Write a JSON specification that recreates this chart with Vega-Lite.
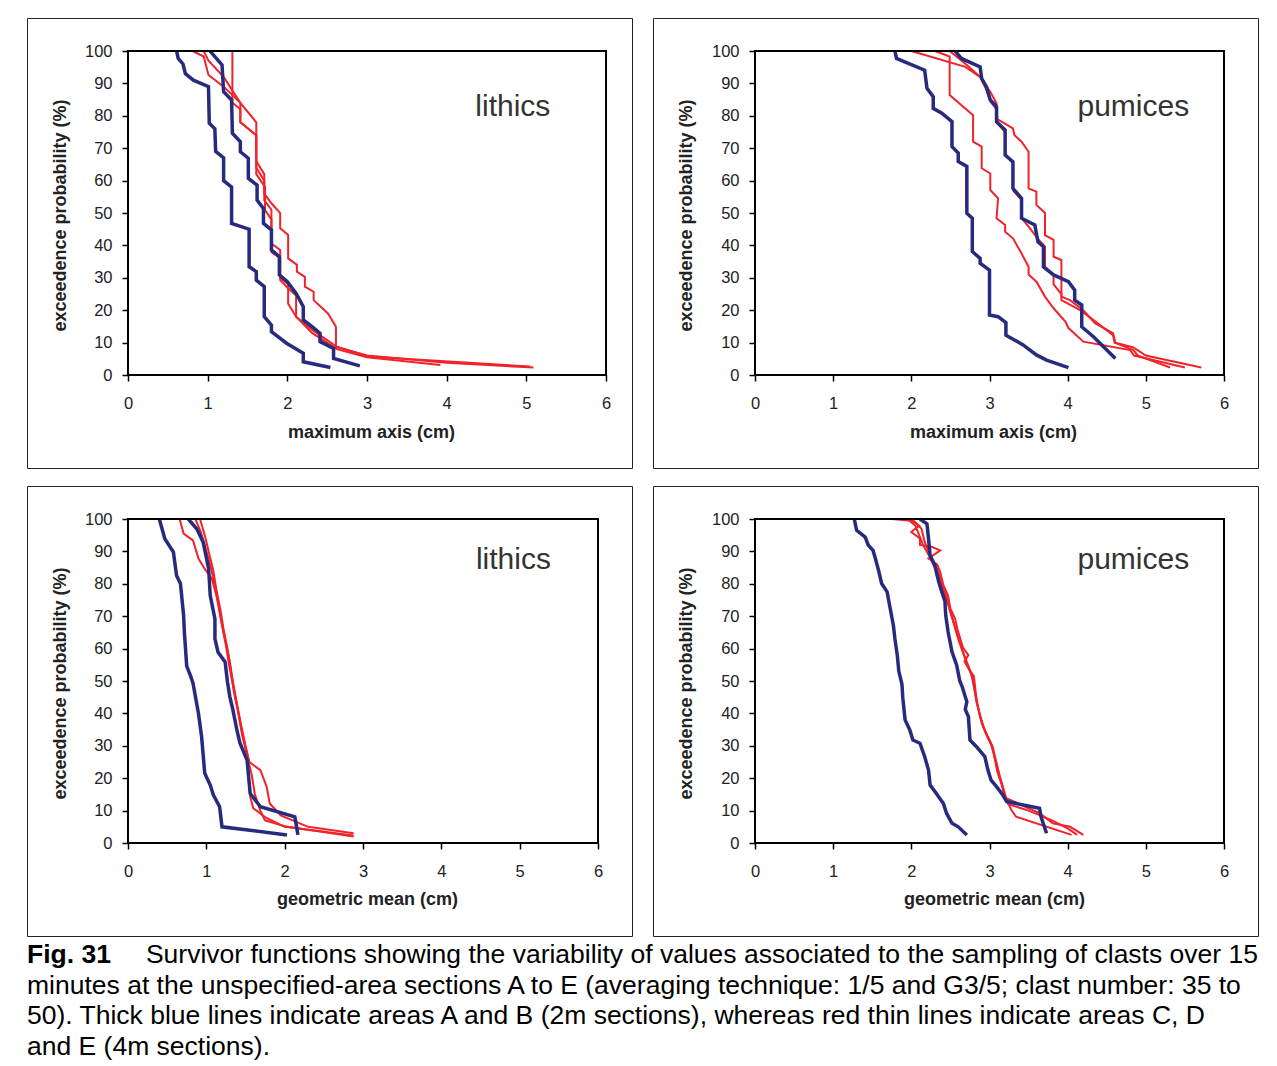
{
  "$schema": "https://vega.github.io/schema/vega-lite/v6.json",
  "padding": {"left": 26, "top": 17, "right": 0, "bottom": 0},
  "background": "white",
  "config": {
    "font": "Liberation Sans",
    "axis": {"grid": false, "domain": false, "format": "d", "tickColor": "#000", "tickWidth": 1.5, "tickSize": 6, "labelFont": "Liberation Sans", "labelFontSize": 16.5, "labelColor": "#222", "labelFlush": false, "titleFont": "Liberation Sans", "titleFontSize": 18, "titleFontWeight": "bold", "titleColor": "#222", "titleBaseline": "middle"},
    "line": {"strokeJoin": "miter", "strokeCap": "butt"}
  },
  "datasets": {
    "curves": [
      {"p":"TL","s":"R1","x":1.31,"y":100},{"p":"TL","s":"R1","x":1.31,"y":84},{"p":"TL","s":"R1","x":1.41,"y":82},{"p":"TL","s":"R1","x":1.41,"y":78},{"p":"TL","s":"R1","x":1.61,"y":74},{"p":"TL","s":"R1","x":1.61,"y":66},{"p":"TL","s":"R1","x":1.71,"y":62},{"p":"TL","s":"R1","x":1.71,"y":56},{"p":"TL","s":"R1","x":1.8,"y":53},{"p":"TL","s":"R1","x":1.91,"y":50},{"p":"TL","s":"R1","x":1.91,"y":45.3},{"p":"TL","s":"R1","x":2.01,"y":43.2},{"p":"TL","s":"R1","x":2.01,"y":36},{"p":"TL","s":"R1","x":2.12,"y":34},{"p":"TL","s":"R1","x":2.12,"y":31.9},{"p":"TL","s":"R1","x":2.22,"y":30.3},{"p":"TL","s":"R1","x":2.22,"y":27.3},{"p":"TL","s":"R1","x":2.33,"y":25.7},{"p":"TL","s":"R1","x":2.33,"y":23.1},{"p":"TL","s":"R1","x":2.51,"y":19},{"p":"TL","s":"R1","x":2.61,"y":14.9},{"p":"TL","s":"R1","x":2.61,"y":8.7},{"p":"TL","s":"R1","x":3.0,"y":6},{"p":"TL","s":"R1","x":4.0,"y":3.8},{"p":"TL","s":"R1","x":5.09,"y":2.3},
      {"p":"TL","s":"R2","x":0.95,"y":100},{"p":"TL","s":"R2","x":1.01,"y":97},{"p":"TL","s":"R2","x":1.2,"y":92},{"p":"TL","s":"R2","x":1.41,"y":84},{"p":"TL","s":"R2","x":1.61,"y":78},{"p":"TL","s":"R2","x":1.61,"y":64},{"p":"TL","s":"R2","x":1.71,"y":60},{"p":"TL","s":"R2","x":1.71,"y":54},{"p":"TL","s":"R2","x":1.8,"y":51},{"p":"TL","s":"R2","x":1.8,"y":40.6},{"p":"TL","s":"R2","x":1.91,"y":38.6},{"p":"TL","s":"R2","x":1.91,"y":29.3},{"p":"TL","s":"R2","x":2.01,"y":26.8},{"p":"TL","s":"R2","x":2.11,"y":24.5},{"p":"TL","s":"R2","x":2.11,"y":18},{"p":"TL","s":"R2","x":2.31,"y":14},{"p":"TL","s":"R2","x":2.62,"y":8.7},{"p":"TL","s":"R2","x":3.0,"y":5.7},{"p":"TL","s":"R2","x":5.05,"y":2.6},
      {"p":"TL","s":"R3","x":0.81,"y":100},{"p":"TL","s":"R3","x":0.95,"y":98.3},{"p":"TL","s":"R3","x":1.01,"y":92.6},{"p":"TL","s":"R3","x":1.2,"y":89},{"p":"TL","s":"R3","x":1.41,"y":84},{"p":"TL","s":"R3","x":1.41,"y":78},{"p":"TL","s":"R3","x":1.61,"y":74},{"p":"TL","s":"R3","x":1.61,"y":62},{"p":"TL","s":"R3","x":1.72,"y":58},{"p":"TL","s":"R3","x":1.72,"y":50.9},{"p":"TL","s":"R3","x":1.8,"y":48},{"p":"TL","s":"R3","x":1.8,"y":38},{"p":"TL","s":"R3","x":1.91,"y":36},{"p":"TL","s":"R3","x":1.91,"y":30},{"p":"TL","s":"R3","x":2.01,"y":28},{"p":"TL","s":"R3","x":2.01,"y":22},{"p":"TL","s":"R3","x":2.11,"y":18},{"p":"TL","s":"R3","x":2.31,"y":13},{"p":"TL","s":"R3","x":2.62,"y":8},{"p":"TL","s":"R3","x":3.0,"y":5.5},{"p":"TL","s":"R3","x":3.92,"y":3.1},
      {"p":"TL","s":"B1","x":0.61,"y":100},{"p":"TL","s":"B1","x":0.63,"y":97.7},{"p":"TL","s":"B1","x":0.69,"y":96},{"p":"TL","s":"B1","x":0.72,"y":93},{"p":"TL","s":"B1","x":0.82,"y":91},{"p":"TL","s":"B1","x":1.01,"y":89},{"p":"TL","s":"B1","x":1.02,"y":77.7},{"p":"TL","s":"B1","x":1.09,"y":76},{"p":"TL","s":"B1","x":1.1,"y":69},{"p":"TL","s":"B1","x":1.2,"y":67},{"p":"TL","s":"B1","x":1.2,"y":60},{"p":"TL","s":"B1","x":1.3,"y":58},{"p":"TL","s":"B1","x":1.3,"y":46.8},{"p":"TL","s":"B1","x":1.52,"y":45},{"p":"TL","s":"B1","x":1.52,"y":33.4},{"p":"TL","s":"B1","x":1.61,"y":31.9},{"p":"TL","s":"B1","x":1.61,"y":29.3},{"p":"TL","s":"B1","x":1.71,"y":27.3},{"p":"TL","s":"B1","x":1.71,"y":18},{"p":"TL","s":"B1","x":1.8,"y":15.4},{"p":"TL","s":"B1","x":1.8,"y":13.4},{"p":"TL","s":"B1","x":1.99,"y":9.8},{"p":"TL","s":"B1","x":2.2,"y":6.7},{"p":"TL","s":"B1","x":2.2,"y":4.1},{"p":"TL","s":"B1","x":2.54,"y":2.3},
      {"p":"TL","s":"B2","x":1.03,"y":100},{"p":"TL","s":"B2","x":1.18,"y":95.7},{"p":"TL","s":"B2","x":1.2,"y":87.4},{"p":"TL","s":"B2","x":1.3,"y":84.9},{"p":"TL","s":"B2","x":1.31,"y":74.6},{"p":"TL","s":"B2","x":1.41,"y":72},{"p":"TL","s":"B2","x":1.41,"y":68.9},{"p":"TL","s":"B2","x":1.51,"y":66.9},{"p":"TL","s":"B2","x":1.51,"y":60.7},{"p":"TL","s":"B2","x":1.62,"y":58.6},{"p":"TL","s":"B2","x":1.62,"y":54},{"p":"TL","s":"B2","x":1.7,"y":51.4},{"p":"TL","s":"B2","x":1.7,"y":46.8},{"p":"TL","s":"B2","x":1.8,"y":44.8},{"p":"TL","s":"B2","x":1.8,"y":38.6},{"p":"TL","s":"B2","x":1.9,"y":36.5},{"p":"TL","s":"B2","x":1.9,"y":30.9},{"p":"TL","s":"B2","x":2.0,"y":28.8},{"p":"TL","s":"B2","x":2.11,"y":25.2},{"p":"TL","s":"B2","x":2.2,"y":21.1},{"p":"TL","s":"B2","x":2.2,"y":17},{"p":"TL","s":"B2","x":2.31,"y":14.9},{"p":"TL","s":"B2","x":2.41,"y":12.9},{"p":"TL","s":"B2","x":2.41,"y":10.3},{"p":"TL","s":"B2","x":2.58,"y":8.2},{"p":"TL","s":"B2","x":2.58,"y":5.1},{"p":"TL","s":"B2","x":2.91,"y":2.8},

      {"p":"TR","s":"R1","x":2.3,"y":100},{"p":"TR","s":"R1","x":2.49,"y":98.3},{"p":"TR","s":"R1","x":2.49,"y":86.4},{"p":"TR","s":"R1","x":2.79,"y":80.2},{"p":"TR","s":"R1","x":2.79,"y":72},{"p":"TR","s":"R1","x":2.9,"y":70.5},{"p":"TR","s":"R1","x":2.9,"y":63.8},{"p":"TR","s":"R1","x":3.01,"y":62.2},{"p":"TR","s":"R1","x":3.01,"y":57.1},{"p":"TR","s":"R1","x":3.11,"y":54.5},{"p":"TR","s":"R1","x":3.09,"y":48.4},{"p":"TR","s":"R1","x":3.2,"y":46.3},{"p":"TR","s":"R1","x":3.2,"y":44.2},{"p":"TR","s":"R1","x":3.3,"y":42.2},{"p":"TR","s":"R1","x":3.41,"y":37.5},{"p":"TR","s":"R1","x":3.5,"y":33.4},{"p":"TR","s":"R1","x":3.5,"y":31},{"p":"TR","s":"R1","x":3.6,"y":28.8},{"p":"TR","s":"R1","x":3.71,"y":24.2},{"p":"TR","s":"R1","x":3.82,"y":20.6},{"p":"TR","s":"R1","x":3.97,"y":16.5},{"p":"TR","s":"R1","x":4.01,"y":14.5},{"p":"TR","s":"R1","x":4.2,"y":10.3},{"p":"TR","s":"R1","x":4.8,"y":7.7},{"p":"TR","s":"R1","x":4.85,"y":6},{"p":"TR","s":"R1","x":5.5,"y":2.3},
      {"p":"TR","s":"R2","x":2.0,"y":100},{"p":"TR","s":"R2","x":2.69,"y":95.1},{"p":"TR","s":"R2","x":2.88,"y":92},{"p":"TR","s":"R2","x":2.96,"y":88},{"p":"TR","s":"R2","x":3.01,"y":84.5},{"p":"TR","s":"R2","x":3.09,"y":82},{"p":"TR","s":"R2","x":3.09,"y":78},{"p":"TR","s":"R2","x":3.2,"y":75},{"p":"TR","s":"R2","x":3.2,"y":68},{"p":"TR","s":"R2","x":3.3,"y":65.5},{"p":"TR","s":"R2","x":3.3,"y":57},{"p":"TR","s":"R2","x":3.41,"y":54},{"p":"TR","s":"R2","x":3.41,"y":48.4},{"p":"TR","s":"R2","x":3.5,"y":45.8},{"p":"TR","s":"R2","x":3.62,"y":42},{"p":"TR","s":"R2","x":3.71,"y":39.6},{"p":"TR","s":"R2","x":3.71,"y":33.4},{"p":"TR","s":"R2","x":3.82,"y":31},{"p":"TR","s":"R2","x":3.82,"y":28},{"p":"TR","s":"R2","x":3.92,"y":25},{"p":"TR","s":"R2","x":3.92,"y":23.1},{"p":"TR","s":"R2","x":4.16,"y":20},{"p":"TR","s":"R2","x":4.33,"y":17},{"p":"TR","s":"R2","x":4.58,"y":12.3},{"p":"TR","s":"R2","x":4.6,"y":10},{"p":"TR","s":"R2","x":4.84,"y":7.7},{"p":"TR","s":"R2","x":4.9,"y":6},{"p":"TR","s":"R2","x":5.31,"y":2.3},
      {"p":"TR","s":"R3","x":2.49,"y":100},{"p":"TR","s":"R3","x":2.71,"y":95.7},{"p":"TR","s":"R3","x":2.88,"y":92},{"p":"TR","s":"R3","x":3.01,"y":87.4},{"p":"TR","s":"R3","x":3.09,"y":83.9},{"p":"TR","s":"R3","x":3.1,"y":79},{"p":"TR","s":"R3","x":3.3,"y":76.1},{"p":"TR","s":"R3","x":3.32,"y":74},{"p":"TR","s":"R3","x":3.41,"y":72},{"p":"TR","s":"R3","x":3.5,"y":68.9},{"p":"TR","s":"R3","x":3.5,"y":57.6},{"p":"TR","s":"R3","x":3.6,"y":56.6},{"p":"TR","s":"R3","x":3.6,"y":52.5},{"p":"TR","s":"R3","x":3.71,"y":50},{"p":"TR","s":"R3","x":3.71,"y":43.2},{"p":"TR","s":"R3","x":3.82,"y":41.7},{"p":"TR","s":"R3","x":3.82,"y":36.5},{"p":"TR","s":"R3","x":3.92,"y":35.5},{"p":"TR","s":"R3","x":3.92,"y":24.2},{"p":"TR","s":"R3","x":4.03,"y":23.1},{"p":"TR","s":"R3","x":4.2,"y":20},{"p":"TR","s":"R3","x":4.35,"y":16},{"p":"TR","s":"R3","x":4.58,"y":12.9},{"p":"TR","s":"R3","x":4.61,"y":10},{"p":"TR","s":"R3","x":4.84,"y":8.5},{"p":"TR","s":"R3","x":5.0,"y":6},{"p":"TR","s":"R3","x":5.71,"y":2.3},
      {"p":"TR","s":"B1","x":1.79,"y":100},{"p":"TR","s":"B1","x":1.81,"y":97.7},{"p":"TR","s":"B1","x":2.17,"y":94.1},{"p":"TR","s":"B1","x":2.2,"y":88.5},{"p":"TR","s":"B1","x":2.28,"y":85.9},{"p":"TR","s":"B1","x":2.28,"y":82.3},{"p":"TR","s":"B1","x":2.39,"y":80.8},{"p":"TR","s":"B1","x":2.52,"y":78.2},{"p":"TR","s":"B1","x":2.52,"y":70.5},{"p":"TR","s":"B1","x":2.6,"y":68.5},{"p":"TR","s":"B1","x":2.6,"y":65.9},{"p":"TR","s":"B1","x":2.71,"y":64.4},{"p":"TR","s":"B1","x":2.71,"y":49.9},{"p":"TR","s":"B1","x":2.78,"y":48.4},{"p":"TR","s":"B1","x":2.78,"y":38.1},{"p":"TR","s":"B1","x":2.88,"y":36},{"p":"TR","s":"B1","x":2.88,"y":34.5},{"p":"TR","s":"B1","x":3.0,"y":32.4},{"p":"TR","s":"B1","x":3.0,"y":18.5},{"p":"TR","s":"B1","x":3.11,"y":18},{"p":"TR","s":"B1","x":3.21,"y":16.2},{"p":"TR","s":"B1","x":3.21,"y":12.3},{"p":"TR","s":"B1","x":3.43,"y":9.3},{"p":"TR","s":"B1","x":3.6,"y":6.2},{"p":"TR","s":"B1","x":3.73,"y":4.6},{"p":"TR","s":"B1","x":4.01,"y":2.3},
      {"p":"TR","s":"B2","x":2.56,"y":100},{"p":"TR","s":"B2","x":2.64,"y":97.7},{"p":"TR","s":"B2","x":2.88,"y":95.1},{"p":"TR","s":"B2","x":2.9,"y":91.5},{"p":"TR","s":"B2","x":2.96,"y":89},{"p":"TR","s":"B2","x":3.01,"y":84.9},{"p":"TR","s":"B2","x":3.09,"y":82.8},{"p":"TR","s":"B2","x":3.09,"y":78.2},{"p":"TR","s":"B2","x":3.2,"y":75.6},{"p":"TR","s":"B2","x":3.2,"y":67.9},{"p":"TR","s":"B2","x":3.3,"y":65.8},{"p":"TR","s":"B2","x":3.3,"y":57.6},{"p":"TR","s":"B2","x":3.41,"y":54.5},{"p":"TR","s":"B2","x":3.41,"y":48.4},{"p":"TR","s":"B2","x":3.58,"y":46.3},{"p":"TR","s":"B2","x":3.62,"y":41.1},{"p":"TR","s":"B2","x":3.69,"y":39.6},{"p":"TR","s":"B2","x":3.69,"y":33.4},{"p":"TR","s":"B2","x":3.82,"y":30.9},{"p":"TR","s":"B2","x":4.01,"y":28.8},{"p":"TR","s":"B2","x":4.09,"y":26.2},{"p":"TR","s":"B2","x":4.09,"y":23.1},{"p":"TR","s":"B2","x":4.18,"y":21.6},{"p":"TR","s":"B2","x":4.18,"y":14.9},{"p":"TR","s":"B2","x":4.33,"y":11.8},{"p":"TR","s":"B2","x":4.61,"y":5.1},

      {"p":"BL","s":"R1","x":0.66,"y":100},{"p":"BL","s":"R1","x":0.71,"y":95.5},{"p":"BL","s":"R1","x":0.83,"y":93.4},{"p":"BL","s":"R1","x":0.9,"y":87.8},{"p":"BL","s":"R1","x":0.98,"y":84.6},{"p":"BL","s":"R1","x":1.07,"y":81.6},{"p":"BL","s":"R1","x":1.13,"y":76.4},{"p":"BL","s":"R1","x":1.17,"y":71.3},{"p":"BL","s":"R1","x":1.24,"y":63},{"p":"BL","s":"R1","x":1.3,"y":55.9},{"p":"BL","s":"R1","x":1.34,"y":49.7},{"p":"BL","s":"R1","x":1.39,"y":43.1},{"p":"BL","s":"R1","x":1.45,"y":34.9},{"p":"BL","s":"R1","x":1.52,"y":27.7},{"p":"BL","s":"R1","x":1.56,"y":14.3},{"p":"BL","s":"R1","x":1.6,"y":10.7},{"p":"BL","s":"R1","x":1.75,"y":8},{"p":"BL","s":"R1","x":2.0,"y":5},{"p":"BL","s":"R1","x":2.88,"y":2.3},
      {"p":"BL","s":"R2","x":0.86,"y":100},{"p":"BL","s":"R2","x":0.93,"y":96},{"p":"BL","s":"R2","x":0.99,"y":91},{"p":"BL","s":"R2","x":1.06,"y":85},{"p":"BL","s":"R2","x":1.11,"y":79},{"p":"BL","s":"R2","x":1.16,"y":73},{"p":"BL","s":"R2","x":1.2,"y":67},{"p":"BL","s":"R2","x":1.25,"y":61},{"p":"BL","s":"R2","x":1.29,"y":55},{"p":"BL","s":"R2","x":1.33,"y":50},{"p":"BL","s":"R2","x":1.38,"y":44},{"p":"BL","s":"R2","x":1.44,"y":37},{"p":"BL","s":"R2","x":1.5,"y":30},{"p":"BL","s":"R2","x":1.55,"y":25},{"p":"BL","s":"R2","x":1.69,"y":22.5},{"p":"BL","s":"R2","x":1.77,"y":17.4},{"p":"BL","s":"R2","x":1.81,"y":12.2},{"p":"BL","s":"R2","x":1.95,"y":8.5},{"p":"BL","s":"R2","x":2.3,"y":5},{"p":"BL","s":"R2","x":2.88,"y":3},
      {"p":"BL","s":"R3","x":0.92,"y":100},{"p":"BL","s":"R3","x":0.98,"y":95},{"p":"BL","s":"R3","x":1.03,"y":90},{"p":"BL","s":"R3","x":1.09,"y":84},{"p":"BL","s":"R3","x":1.13,"y":78},{"p":"BL","s":"R3","x":1.18,"y":72},{"p":"BL","s":"R3","x":1.22,"y":66},{"p":"BL","s":"R3","x":1.27,"y":60},{"p":"BL","s":"R3","x":1.31,"y":54},{"p":"BL","s":"R3","x":1.35,"y":47},{"p":"BL","s":"R3","x":1.4,"y":41},{"p":"BL","s":"R3","x":1.46,"y":33},{"p":"BL","s":"R3","x":1.52,"y":27},{"p":"BL","s":"R3","x":1.58,"y":21},{"p":"BL","s":"R3","x":1.62,"y":15},{"p":"BL","s":"R3","x":1.69,"y":10},{"p":"BL","s":"R3","x":1.75,"y":7},{"p":"BL","s":"R3","x":2.0,"y":5.2},{"p":"BL","s":"R3","x":2.88,"y":2},
      {"p":"BL","s":"B1","x":0.4,"y":100},{"p":"BL","s":"B1","x":0.47,"y":93.9},{"p":"BL","s":"B1","x":0.58,"y":89.8},{"p":"BL","s":"B1","x":0.62,"y":82.6},{"p":"BL","s":"B1","x":0.67,"y":80},{"p":"BL","s":"B1","x":0.71,"y":70.3},{"p":"BL","s":"B1","x":0.72,"y":65},{"p":"BL","s":"B1","x":0.75,"y":54.6},{"p":"BL","s":"B1","x":0.8,"y":51.5},{"p":"BL","s":"B1","x":0.83,"y":49.3},{"p":"BL","s":"B1","x":0.9,"y":40},{"p":"BL","s":"B1","x":0.94,"y":32.8},{"p":"BL","s":"B1","x":0.98,"y":21.5},{"p":"BL","s":"B1","x":1.05,"y":17.9},{"p":"BL","s":"B1","x":1.09,"y":14.8},{"p":"BL","s":"B1","x":1.17,"y":11.2},{"p":"BL","s":"B1","x":1.2,"y":5},{"p":"BL","s":"B1","x":2.03,"y":2.5},
      {"p":"BL","s":"B2","x":0.77,"y":100},{"p":"BL","s":"B2","x":0.88,"y":96.9},{"p":"BL","s":"B2","x":0.96,"y":92.8},{"p":"BL","s":"B2","x":1.03,"y":84.6},{"p":"BL","s":"B2","x":1.05,"y":76.4},{"p":"BL","s":"B2","x":1.11,"y":69.2},{"p":"BL","s":"B2","x":1.11,"y":63},{"p":"BL","s":"B2","x":1.15,"y":58.9},{"p":"BL","s":"B2","x":1.24,"y":55.9},{"p":"BL","s":"B2","x":1.27,"y":49.7},{"p":"BL","s":"B2","x":1.3,"y":45.2},{"p":"BL","s":"B2","x":1.34,"y":41},{"p":"BL","s":"B2","x":1.39,"y":34.9},{"p":"BL","s":"B2","x":1.43,"y":30.8},{"p":"BL","s":"B2","x":1.52,"y":25.6},{"p":"BL","s":"B2","x":1.56,"y":15.3},{"p":"BL","s":"B2","x":1.69,"y":11.2},{"p":"BL","s":"B2","x":2.13,"y":8.1},{"p":"BL","s":"B2","x":2.17,"y":2.5},

      {"p":"BR","s":"R1","x":1.75,"y":100},{"p":"BR","s":"R1","x":2.0,"y":99.5},{"p":"BR","s":"R1","x":2.1,"y":98},{"p":"BR","s":"R1","x":2.0,"y":96},{"p":"BR","s":"R1","x":2.11,"y":94},{"p":"BR","s":"R1","x":2.11,"y":92},{"p":"BR","s":"R1","x":2.25,"y":91.5},{"p":"BR","s":"R1","x":2.37,"y":90.3},{"p":"BR","s":"R1","x":2.22,"y":87.8},{"p":"BR","s":"R1","x":2.33,"y":86},{"p":"BR","s":"R1","x":2.37,"y":83.6},{"p":"BR","s":"R1","x":2.41,"y":79.6},{"p":"BR","s":"R1","x":2.47,"y":76.4},{"p":"BR","s":"R1","x":2.5,"y":72.3},{"p":"BR","s":"R1","x":2.56,"y":69.2},{"p":"BR","s":"R1","x":2.59,"y":66},{"p":"BR","s":"R1","x":2.66,"y":60.3},{"p":"BR","s":"R1","x":2.73,"y":58},{"p":"BR","s":"R1","x":2.68,"y":56},{"p":"BR","s":"R1","x":2.74,"y":53.5},{"p":"BR","s":"R1","x":2.8,"y":51.5},{"p":"BR","s":"R1","x":2.84,"y":43.1},{"p":"BR","s":"R1","x":2.92,"y":35.9},{"p":"BR","s":"R1","x":2.98,"y":32.8},{"p":"BR","s":"R1","x":3.04,"y":29.8},{"p":"BR","s":"R1","x":3.09,"y":24.7},{"p":"BR","s":"R1","x":3.13,"y":20.6},{"p":"BR","s":"R1","x":3.17,"y":17.4},{"p":"BR","s":"R1","x":3.22,"y":13.3},{"p":"BR","s":"R1","x":3.28,"y":10.2},{"p":"BR","s":"R1","x":3.34,"y":8.1},{"p":"BR","s":"R1","x":4.05,"y":2.5},
      {"p":"BR","s":"R2","x":2.0,"y":100},{"p":"BR","s":"R2","x":2.05,"y":99},{"p":"BR","s":"R2","x":2.13,"y":97},{"p":"BR","s":"R2","x":2.17,"y":93},{"p":"BR","s":"R2","x":2.22,"y":90},{"p":"BR","s":"R2","x":2.28,"y":87},{"p":"BR","s":"R2","x":2.34,"y":84},{"p":"BR","s":"R2","x":2.39,"y":80},{"p":"BR","s":"R2","x":2.45,"y":76},{"p":"BR","s":"R2","x":2.49,"y":72},{"p":"BR","s":"R2","x":2.54,"y":68},{"p":"BR","s":"R2","x":2.6,"y":63},{"p":"BR","s":"R2","x":2.66,"y":59},{"p":"BR","s":"R2","x":2.74,"y":54},{"p":"BR","s":"R2","x":2.79,"y":50},{"p":"BR","s":"R2","x":2.83,"y":44},{"p":"BR","s":"R2","x":2.9,"y":37},{"p":"BR","s":"R2","x":2.97,"y":33},{"p":"BR","s":"R2","x":3.03,"y":30},{"p":"BR","s":"R2","x":3.07,"y":26},{"p":"BR","s":"R2","x":3.12,"y":21.5},{"p":"BR","s":"R2","x":3.16,"y":18},{"p":"BR","s":"R2","x":3.2,"y":14},{"p":"BR","s":"R2","x":3.64,"y":9.2},{"p":"BR","s":"R2","x":3.81,"y":6.1},{"p":"BR","s":"R2","x":4.03,"y":5},{"p":"BR","s":"R2","x":4.2,"y":2.5},
      {"p":"BR","s":"R3","x":1.95,"y":100},{"p":"BR","s":"R3","x":2.05,"y":98},{"p":"BR","s":"R3","x":2.1,"y":95},{"p":"BR","s":"R3","x":2.15,"y":92},{"p":"BR","s":"R3","x":2.22,"y":89},{"p":"BR","s":"R3","x":2.3,"y":85},{"p":"BR","s":"R3","x":2.36,"y":81},{"p":"BR","s":"R3","x":2.42,"y":77},{"p":"BR","s":"R3","x":2.48,"y":73},{"p":"BR","s":"R3","x":2.53,"y":69},{"p":"BR","s":"R3","x":2.58,"y":65},{"p":"BR","s":"R3","x":2.63,"y":61},{"p":"BR","s":"R3","x":2.7,"y":56},{"p":"BR","s":"R3","x":2.77,"y":52},{"p":"BR","s":"R3","x":2.82,"y":46},{"p":"BR","s":"R3","x":2.88,"y":39},{"p":"BR","s":"R3","x":2.95,"y":34},{"p":"BR","s":"R3","x":3.02,"y":30.5},{"p":"BR","s":"R3","x":3.06,"y":27},{"p":"BR","s":"R3","x":3.1,"y":22},{"p":"BR","s":"R3","x":3.15,"y":18.5},{"p":"BR","s":"R3","x":3.19,"y":15},{"p":"BR","s":"R3","x":3.24,"y":12},{"p":"BR","s":"R3","x":3.5,"y":10},{"p":"BR","s":"R3","x":3.8,"y":7},{"p":"BR","s":"R3","x":4.0,"y":4.5},{"p":"BR","s":"R3","x":4.12,"y":2.5},
      {"p":"BR","s":"B1","x":1.27,"y":100},{"p":"BR","s":"B1","x":1.3,"y":96.5},{"p":"BR","s":"B1","x":1.41,"y":94.4},{"p":"BR","s":"B1","x":1.45,"y":91.9},{"p":"BR","s":"B1","x":1.51,"y":90.3},{"p":"BR","s":"B1","x":1.54,"y":87.8},{"p":"BR","s":"B1","x":1.58,"y":84.2},{"p":"BR","s":"B1","x":1.62,"y":80.1},{"p":"BR","s":"B1","x":1.69,"y":77.5},{"p":"BR","s":"B1","x":1.73,"y":72.3},{"p":"BR","s":"B1","x":1.77,"y":67.2},{"p":"BR","s":"B1","x":1.79,"y":63},{"p":"BR","s":"B1","x":1.82,"y":58},{"p":"BR","s":"B1","x":1.84,"y":53},{"p":"BR","s":"B1","x":1.88,"y":49},{"p":"BR","s":"B1","x":1.89,"y":45},{"p":"BR","s":"B1","x":1.92,"y":38},{"p":"BR","s":"B1","x":1.98,"y":34.9},{"p":"BR","s":"B1","x":2.02,"y":31.8},{"p":"BR","s":"B1","x":2.11,"y":30.8},{"p":"BR","s":"B1","x":2.17,"y":26.7},{"p":"BR","s":"B1","x":2.22,"y":22.5},{"p":"BR","s":"B1","x":2.24,"y":17.9},{"p":"BR","s":"B1","x":2.32,"y":15.3},{"p":"BR","s":"B1","x":2.41,"y":12.2},{"p":"BR","s":"B1","x":2.45,"y":9.2},{"p":"BR","s":"B1","x":2.52,"y":6.1},{"p":"BR","s":"B1","x":2.6,"y":5},{"p":"BR","s":"B1","x":2.71,"y":2.5},
      {"p":"BR","s":"B2","x":2.11,"y":100},{"p":"BR","s":"B2","x":2.2,"y":98.5},{"p":"BR","s":"B2","x":2.22,"y":93.9},{"p":"BR","s":"B2","x":2.24,"y":88.8},{"p":"BR","s":"B2","x":2.3,"y":85.7},{"p":"BR","s":"B2","x":2.35,"y":80.6},{"p":"BR","s":"B2","x":2.39,"y":77.5},{"p":"BR","s":"B2","x":2.43,"y":74.6},{"p":"BR","s":"B2","x":2.44,"y":70.3},{"p":"BR","s":"B2","x":2.47,"y":65.2},{"p":"BR","s":"B2","x":2.52,"y":59},{"p":"BR","s":"B2","x":2.58,"y":54.9},{"p":"BR","s":"B2","x":2.62,"y":50},{"p":"BR","s":"B2","x":2.65,"y":48.3},{"p":"BR","s":"B2","x":2.71,"y":43.6},{"p":"BR","s":"B2","x":2.69,"y":41.2},{"p":"BR","s":"B2","x":2.73,"y":39},{"p":"BR","s":"B2","x":2.75,"y":31.8},{"p":"BR","s":"B2","x":2.83,"y":29.8},{"p":"BR","s":"B2","x":2.94,"y":26.7},{"p":"BR","s":"B2","x":2.98,"y":22.5},{"p":"BR","s":"B2","x":3.02,"y":19.4},{"p":"BR","s":"B2","x":3.09,"y":17.4},{"p":"BR","s":"B2","x":3.17,"y":14.8},{"p":"BR","s":"B2","x":3.22,"y":12.8},{"p":"BR","s":"B2","x":3.64,"y":10.7},{"p":"BR","s":"B2","x":3.66,"y":8},{"p":"BR","s":"B2","x":3.73,"y":3}
    ],
    "caption": [
      {"line": 1, "part": "fig", "text": "Fig. 31"},
      {"line": 1, "part": "lead", "text": "Survivor functions showing the variability of values associated to the sampling of clasts over 15"},
      {"line": 2, "part": "body", "text": "minutes at the unspecified-area sections A to E (averaging technique: 1/5 and G3/5; clast number: 35 to"},
      {"line": 3, "part": "body", "text": "50). Thick blue lines indicate areas A and B (2m sections), whereas red thin lines indicate areas C, D"},
      {"line": 4, "part": "body", "text": "and E (4m sections)."}
    ]
  },
  "spacing": 3,
  "vconcat": [
    {
      "spacing": 16,
      "vconcat": [
        {
          "spacing": 19,
          "hconcat": [
            {
              "width": 605, "height": 450,
              "view": {"stroke": "#222", "strokeWidth": 1},
              "layer": [
                {"data": {"name": "curves"}, "transform": [{"filter": "datum.p === 'TL'"}, {"filter": {"field": "s", "oneOf": ["R1","R2","R3"]}}],
                 "mark": {"type": "line", "color": "#f0232a", "strokeWidth": 2},
                 "encoding": {
                   "x": {"field": "x", "type": "quantitative", "scale": {"domain": [-1.268, 6.326], "nice": false, "zero": false},
                         "axis": {"values": [0,1,2,3,4,5,6], "offset": -93, "labelPadding": 14, "title": "maximum axis (cm)", "titleX": 344, "titleY": 57}},
                   "y": {"field": "y", "type": "quantitative", "scale": {"domain": [-28.7, 110.19], "nice": false, "zero": false},
                         "axis": {"values": [0,10,20,30,40,50,60,70,80,90,100], "offset": -101, "labelPadding": 10, "title": "exceedence probability (%)", "titleX": -68, "titleY": 197}},
                   "detail": {"field": "s"}, "order": {"value": null}}},
                {"data": {"name": "curves"}, "transform": [{"filter": "datum.p === 'TL'"}, {"filter": {"field": "s", "oneOf": ["B1","B2"]}}],
                 "mark": {"type": "line", "color": "#262b7d", "strokeWidth": 3.5},
                 "encoding": {"x": {"field": "x", "type": "quantitative"}, "y": {"field": "y", "type": "quantitative"}, "detail": {"field": "s"}, "order": {"value": null}}},
                {"data": {"values": [{"label": "lithics"}]},
                 "mark": {"type": "text", "fontSize": 30, "color": "#333", "align": "center", "baseline": "middle"},
                 "encoding": {"x": {"datum": 4.83}, "y": {"datum": 82.7}, "text": {"field": "label"}}},
                {"data": {"values": [{"frame": "plot"}]},
                 "mark": {"type": "rect", "fill": "transparent", "stroke": "#000", "strokeWidth": 2},
                 "encoding": {"x": {"datum": 0}, "x2": {"datum": 6}, "y": {"datum": 0}, "y2": {"datum": 100}}}
              ]
            },
            {
              "width": 605, "height": 450,
              "view": {"stroke": "#222", "strokeWidth": 1},
              "layer": [
                {"data": {"name": "curves"}, "transform": [{"filter": "datum.p === 'TR'"}, {"filter": {"field": "s", "oneOf": ["R1","R2","R3"]}}],
                 "mark": {"type": "line", "color": "#f0232a", "strokeWidth": 2},
                 "encoding": {
                   "x": {"field": "x", "type": "quantitative", "scale": {"domain": [-1.305, 6.435], "nice": false, "zero": false},
                         "axis": {"values": [0,1,2,3,4,5,6], "offset": -93, "labelPadding": 14, "title": "maximum axis (cm)", "titleX": 340, "titleY": 57}},
                   "y": {"field": "y", "type": "quantitative", "scale": {"domain": [-28.7, 110.19], "nice": false, "zero": false},
                         "axis": {"values": [0,10,20,30,40,50,60,70,80,90,100], "offset": -102, "labelPadding": 10, "title": "exceedence probability (%)", "titleX": -69, "titleY": 197}},
                   "detail": {"field": "s"}, "order": {"value": null}}},
                {"data": {"name": "curves"}, "transform": [{"filter": "datum.p === 'TR'"}, {"filter": {"field": "s", "oneOf": ["B1","B2"]}}],
                 "mark": {"type": "line", "color": "#262b7d", "strokeWidth": 3.5},
                 "encoding": {"x": {"field": "x", "type": "quantitative"}, "y": {"field": "y", "type": "quantitative"}, "detail": {"field": "s"}, "order": {"value": null}}},
                {"data": {"values": [{"label": "pumices"}]},
                 "mark": {"type": "text", "fontSize": 30, "color": "#333", "align": "center", "baseline": "middle"},
                 "encoding": {"x": {"datum": 4.84}, "y": {"datum": 82.7}, "text": {"field": "label"}}},
                {"data": {"values": [{"frame": "plot"}]},
                 "mark": {"type": "rect", "fill": "transparent", "stroke": "#000", "strokeWidth": 2},
                 "encoding": {"x": {"datum": 0}, "x2": {"datum": 6}, "y": {"datum": 0}, "y2": {"datum": 100}}}
              ]
            }
          ]
        },
        {
          "spacing": 19,
          "hconcat": [
            {
              "width": 605, "height": 450,
              "view": {"stroke": "#222", "strokeWidth": 1},
              "layer": [
                {"data": {"name": "curves"}, "transform": [{"filter": "datum.p === 'BL'"}, {"filter": {"field": "s", "oneOf": ["R1","R2","R3"]}}],
                 "mark": {"type": "line", "color": "#f0232a", "strokeWidth": 2},
                 "encoding": {
                   "x": {"field": "x", "type": "quantitative", "scale": {"domain": [-1.289, 6.434], "nice": false, "zero": false},
                         "axis": {"values": [0,1,2,3,4,5,6], "offset": -93, "labelPadding": 14, "title": "geometric mean (cm)", "titleX": 340, "titleY": 56}},
                   "y": {"field": "y", "type": "quantitative", "scale": {"domain": [-28.7, 110.19], "nice": false, "zero": false},
                         "axis": {"values": [0,10,20,30,40,50,60,70,80,90,100], "offset": -101, "labelPadding": 10, "title": "exceedence probability (%)", "titleX": -68, "titleY": 197}},
                   "detail": {"field": "s"}, "order": {"value": null}}},
                {"data": {"name": "curves"}, "transform": [{"filter": "datum.p === 'BL'"}, {"filter": {"field": "s", "oneOf": ["B1","B2"]}}],
                 "mark": {"type": "line", "color": "#262b7d", "strokeWidth": 3.5},
                 "encoding": {"x": {"field": "x", "type": "quantitative"}, "y": {"field": "y", "type": "quantitative"}, "detail": {"field": "s"}, "order": {"value": null}}},
                {"data": {"values": [{"label": "lithics"}]},
                 "mark": {"type": "text", "fontSize": 30, "color": "#333", "align": "center", "baseline": "middle"},
                 "encoding": {"x": {"datum": 4.92}, "y": {"datum": 87.3}, "text": {"field": "label"}}},
                {"data": {"values": [{"frame": "plot"}]},
                 "mark": {"type": "rect", "fill": "transparent", "stroke": "#000", "strokeWidth": 2},
                 "encoding": {"x": {"datum": 0}, "x2": {"datum": 6}, "y": {"datum": 0}, "y2": {"datum": 100}}}
              ]
            },
            {
              "width": 605, "height": 450,
              "view": {"stroke": "#222", "strokeWidth": 1},
              "layer": [
                {"data": {"name": "curves"}, "transform": [{"filter": "datum.p === 'BR'"}, {"filter": {"field": "s", "oneOf": ["R1","R2","R3"]}}],
                 "mark": {"type": "line", "color": "#f0232a", "strokeWidth": 2},
                 "encoding": {
                   "x": {"field": "x", "type": "quantitative", "scale": {"domain": [-1.305, 6.435], "nice": false, "zero": false},
                         "axis": {"values": [0,1,2,3,4,5,6], "offset": -93, "labelPadding": 14, "title": "geometric mean (cm)", "titleX": 341, "titleY": 56}},
                   "y": {"field": "y", "type": "quantitative", "scale": {"domain": [-28.7, 110.19], "nice": false, "zero": false},
                         "axis": {"values": [0,10,20,30,40,50,60,70,80,90,100], "offset": -102, "labelPadding": 10, "title": "exceedence probability (%)", "titleX": -69, "titleY": 197}},
                   "detail": {"field": "s"}, "order": {"value": null}}},
                {"data": {"name": "curves"}, "transform": [{"filter": "datum.p === 'BR'"}, {"filter": {"field": "s", "oneOf": ["B1","B2"]}}],
                 "mark": {"type": "line", "color": "#262b7d", "strokeWidth": 3.5},
                 "encoding": {"x": {"field": "x", "type": "quantitative"}, "y": {"field": "y", "type": "quantitative"}, "detail": {"field": "s"}, "order": {"value": null}}},
                {"data": {"values": [{"label": "pumices"}]},
                 "mark": {"type": "text", "fontSize": 30, "color": "#333", "align": "center", "baseline": "middle"},
                 "encoding": {"x": {"datum": 4.84}, "y": {"datum": 87.3}, "text": {"field": "label"}}},
                {"data": {"values": [{"frame": "plot"}]},
                 "mark": {"type": "rect", "fill": "transparent", "stroke": "#000", "strokeWidth": 2},
                 "encoding": {"x": {"datum": 0}, "x2": {"datum": 6}, "y": {"datum": 0}, "y2": {"datum": 100}}}
              ]
            }
          ]
        }
      ]
    },
    {
      "width": 1231, "height": 122,
      "view": {"stroke": null},
      "data": {"name": "caption"},
      "encoding": {
        "y": {"field": "line", "type": "ordinal", "scale": {"type": "point", "padding": 0.5}, "axis": null},
        "text": {"field": "text"}
      },
      "layer": [
        {"transform": [{"filter": "datum.part === 'fig'"}],
         "mark": {"type": "text", "align": "left", "baseline": "middle", "fontSize": 26.5, "fontWeight": "bold", "color": "#000"},
         "encoding": {"x": {"datum": 0, "type": "quantitative", "scale": {"domain": [0, 1]}, "axis": null}}},
        {"transform": [{"filter": "datum.part === 'lead'"}],
         "mark": {"type": "text", "align": "right", "baseline": "middle", "fontSize": 26.5, "color": "#000"},
         "encoding": {"x": {"datum": 1, "type": "quantitative", "scale": {"domain": [0, 1]}, "axis": null}}},
        {"transform": [{"filter": "datum.part === 'body'"}],
         "mark": {"type": "text", "align": "left", "baseline": "middle", "fontSize": 26.5, "color": "#000"},
         "encoding": {"x": {"datum": 0, "type": "quantitative", "scale": {"domain": [0, 1]}, "axis": null}}}
      ]
    }
  ]
}
